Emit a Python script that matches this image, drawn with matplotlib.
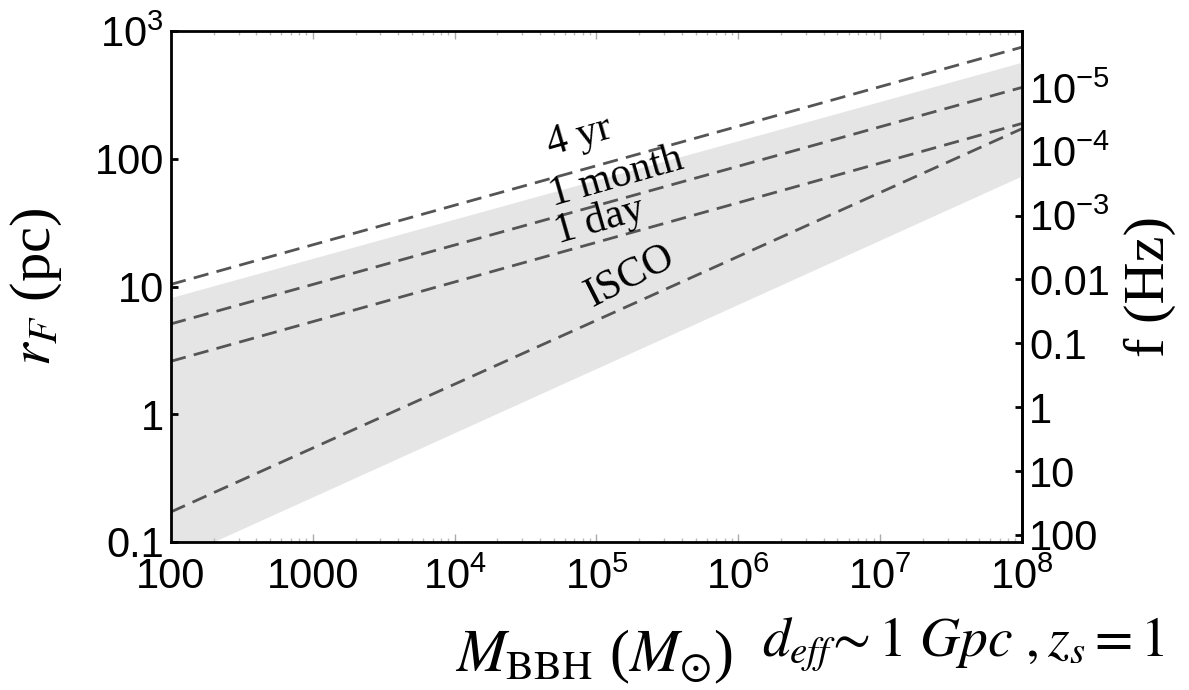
import numpy as np
import matplotlib.pyplot as plt
from matplotlib.ticker import FixedLocator, FixedFormatter, LogLocator, NullFormatter

plt.rcParams['font.family'] = ['Liberation Sans', 'DejaVu Sans']
plt.rcParams['mathtext.fontset'] = 'stix'

# Black hole binary mass range (solar masses), endpoints of each straight log-log line
mass = [1e2, 1e8]
r_4yr = [10.4, 748]
r_month = [5.1, 362]
r_day = [2.6, 189]
r_isco = [0.172, 172]

# shaded region
band_upper = [8.2, 570]
band_lower = [0.071, 73.5]

# line labels: text, position (M, r), rotation
labels = ["4 yr", "1 month", "1 day", "ISCO"]
label_M = [7.6e4, 1.39e5, 1.05e5, 1.72e5]
label_r = [150, 72, 33, 12]
label_rot = [16, 16, 16, 27]

# right axis: f (Hz) relation to r_F (pc)
f_ticks = [1e-5, 1e-4, 1e-3, 1e-2, 1e-1, 1, 10, 100]
f_ticklabels = [r"$\mathregular{10^{-5}}$", r"$\mathregular{10^{-4}}$", r"$\mathregular{10^{-3}}$",
                "0.01", "0.1", "1", "10", "100"]
F_CONST = 1.29


def r_to_f(r):
    r = np.clip(r, 1e-12, None)
    return F_CONST / r**2


def f_to_r(f):
    f = np.clip(f, 1e-12, None)
    return np.sqrt(F_CONST / f)


fig = plt.figure(figsize=(11.89, 6.9), dpi=100)
ax = fig.add_axes([0.1438, 0.2145, 0.7157, 0.7405])

ax.fill_between(mass, band_lower, band_upper, color="#e5e5e5", lw=0, zorder=1)
for r in [r_4yr, r_month, r_day, r_isco]:
    ax.plot(mass, r, ls=(0, (5.5, 3)), color="#555555", lw=2, zorder=2)

for t, m, r, rot in zip(labels, label_M, label_r, label_rot):
    ax.text(m, r, t, rotation=rot, ha="center", va="center", fontsize=30,
            family="Liberation Serif", zorder=3, rotation_mode="anchor")

ax.set_xscale("log")
ax.set_yscale("log")
ax.set_xlim(1e2, 1e8)
ax.set_ylim(0.1, 1e3)

x_ticks = [1e2, 1e3, 1e4, 1e5, 1e6, 1e7, 1e8]
x_ticklabels = ["100", "1000", r"$\mathregular{10^4}$", r"$\mathregular{10^5}$",
                r"$\mathregular{10^6}$", r"$\mathregular{10^7}$", r"$\mathregular{10^8}$"]
y_ticks = [0.1, 1, 10, 100, 1000]
y_ticklabels = ["0.1", "1", "10", "100", r"$\mathregular{10^3}$"]
ax.xaxis.set_major_locator(FixedLocator(x_ticks))
ax.xaxis.set_major_formatter(FixedFormatter(x_ticklabels))
ax.xaxis.set_minor_locator(LogLocator(base=10, subs=np.arange(2, 10), numticks=20))
ax.xaxis.set_minor_formatter(NullFormatter())
ax.yaxis.set_major_locator(FixedLocator(y_ticks))
ax.yaxis.set_major_formatter(FixedFormatter(y_ticklabels))
ax.yaxis.set_minor_locator(FixedLocator([]))

ax.tick_params(axis="x", which="major", direction="in", length=6, width=1, color="#aaaaaa",
               top=True, labelsize=30, pad=11)
ax.tick_params(axis="x", which="minor", direction="in", length=3, width=1, color="#bbbbbb", top=True)
ax.tick_params(axis="y", which="major", direction="in", length=5, width=2, color="black",
               right=False, labelsize=30, pad=5)
for s in ax.spines.values():
    s.set_linewidth(2)

sec = ax.secondary_yaxis("right", functions=(r_to_f, f_to_r))
sec.yaxis.set_major_locator(FixedLocator(f_ticks))
sec.yaxis.set_major_formatter(FixedFormatter(f_ticklabels))
sec.yaxis.set_minor_locator(FixedLocator([]))
sec.tick_params(axis="y", which="major", direction="in", length=5, width=2, labelsize=30, pad=5)
sec.spines["right"].set_linewidth(2)
sec.set_ylabel("f (Hz)", family="Liberation Serif", fontsize=42, labelpad=10)

ax.set_ylabel(r"$r_F$ (pc)", family="Liberation Serif", fontsize=42, labelpad=22)

fig.text(455 / 1189, 19 / 690, r"$M_{\mathrm{BBH}}$ ($M_{\odot}$)", family="Liberation Serif",
         fontsize=43, ha="left", va="baseline")
fig.text(762 / 1189, 34 / 690, r"$d_{eff}\!\sim 1\ Gpc\ ,z_s = 1$", fontsize=40,
         ha="left", va="baseline")

fig.savefig("out.png", dpi=100)
